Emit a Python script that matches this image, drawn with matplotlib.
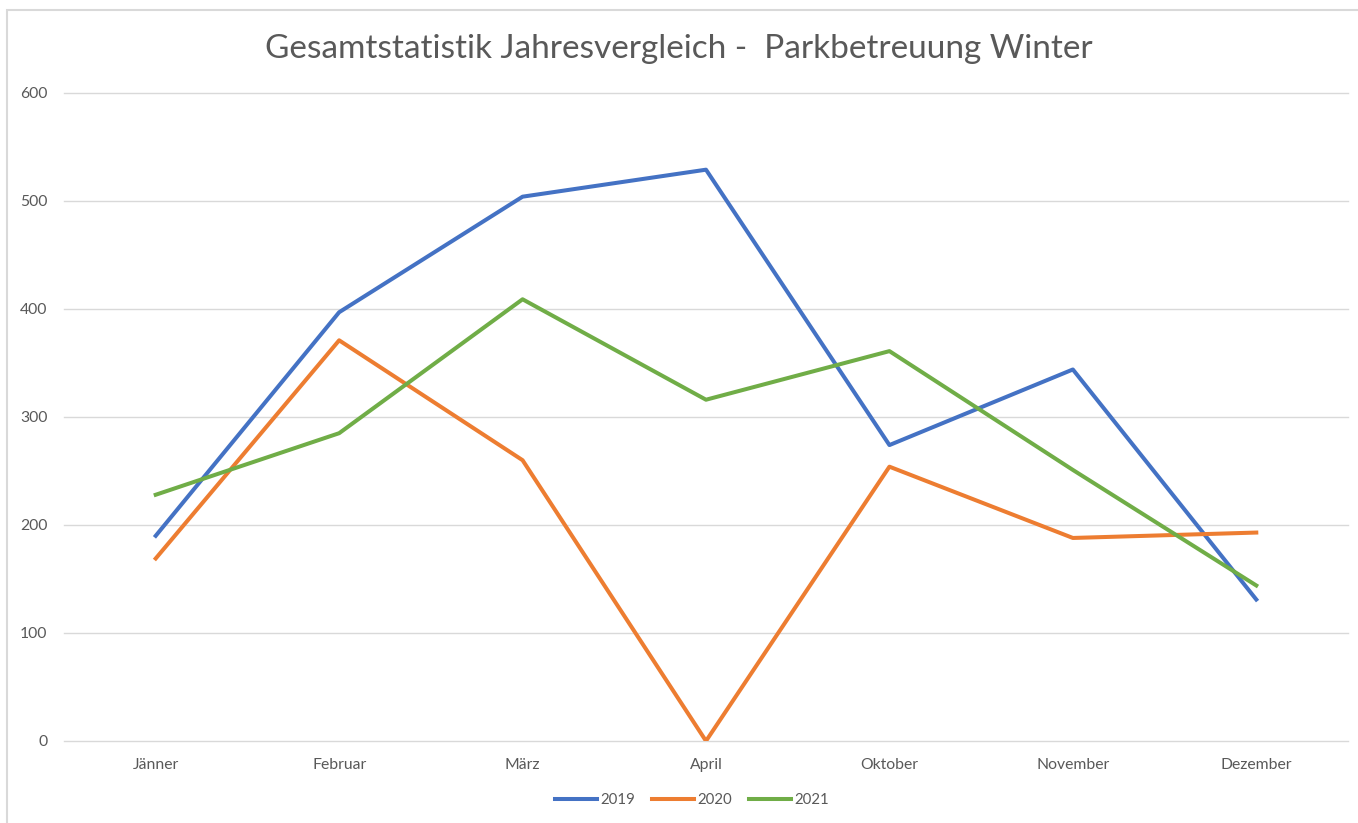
import matplotlib
matplotlib.use('Agg')
import matplotlib.pyplot as plt
from matplotlib.patches import Rectangle

months = ['Jänner', 'Februar', 'März', 'April', 'Oktober', 'November', 'Dezember']
v2019 = [190, 397, 504, 529, 274, 344, 131]
v2020 = [169, 371, 260, 0, 254, 188, 193]
v2021 = [228, 285, 409, 316, 361, 251, 144]
years = ['2019', '2020', '2021']
colors = ['#4472C4', '#ED7D31', '#70AD47']

plt.rcParams['font.family'] = ['Lato', 'DejaVu Sans']

fig = plt.figure(figsize=(13.58, 8.23), dpi=100)
# chart frame
fig.patches.append(Rectangle((7/1358, -0.01), 1.0, 1 - 10/823 + 0.01, transform=fig.transFigure,
                             fill=False, edgecolor='#d9d9d9', linewidth=1.5))

ax = fig.add_axes([64/1358, 1 - 741/823, 1284/1358, 648/823])
x = range(len(months))
for vals, lab, c in zip([v2019, v2020, v2021], years, colors):
    ax.plot(x, vals, color=c, linewidth=2.9, label=lab, solid_joinstyle='round', zorder=3)

ax.set_xlim(-0.5, 6.5)
ax.set_ylim(0, 600)
ax.set_yticks(range(0, 601, 100))
ax.set_xticks(list(x))
ax.set_xticklabels(months)
for gl in range(0, 601, 100):
    ax.axhline(gl, color='#d9d9d9', linewidth=1, zorder=1, clip_on=False)
for s in ax.spines.values():
    s.set_visible(False)
ax.tick_params(length=0, labelsize=11.3, labelcolor='#595959')
ax.tick_params(axis='x', pad=12)
ax.tick_params(axis='y', pad=12)

fig.text(0.5, 1 - 49/823, 'Gesamtstatistik Jahresvergleich -  Parkbetreuung Winter',
         ha='center', va='center', fontsize=24, color='#595959')

leg = fig.legend(loc='center', bbox_to_anchor=(692/1358, 1 - 800/823), ncol=3, frameon=False,
                 fontsize=10.8, handlelength=2.8, columnspacing=1.1, handletextpad=0.25)
for t in leg.get_texts():
    t.set_color('#595959')

plt.savefig('out.png', dpi=100)
